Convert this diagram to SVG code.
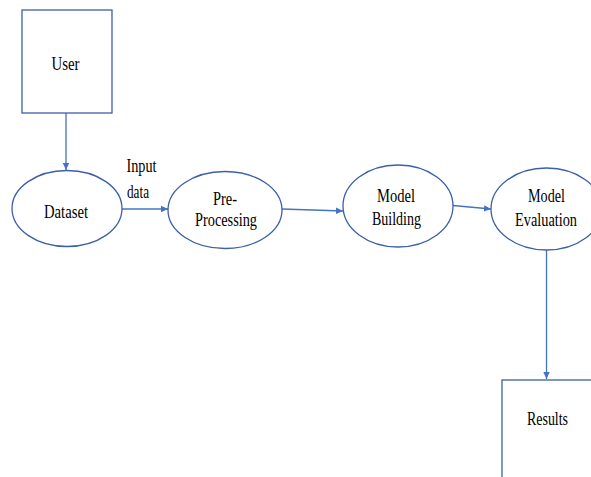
<svg xmlns="http://www.w3.org/2000/svg" width="591" height="477" viewBox="0 0 591 477">
<defs>
<marker id="ah" markerWidth="8" markerHeight="8" refX="7" refY="4" orient="auto" markerUnits="userSpaceOnUse">
<path d="M0,0.8 L7,4 L0,7.2 Z" fill="#4472C4"/>
</marker>
<style>
.shape{fill:#ffffff;stroke:#3B5FA8;stroke-width:1.3}
.conn{stroke:#4472C4;stroke-width:1.3;fill:none;marker-end:url(#ah)}
text{font-family:"Liberation Serif","Times New Roman",serif;font-size:19px;fill:#000000;text-anchor:middle}
</style>
</defs>
<rect width="591" height="477" fill="#ffffff"/>
<g id="connectors">
<line class="conn" x1="66" y1="113" x2="66" y2="170"/>
<line class="conn" x1="122" y1="209" x2="168" y2="209"/>
<line class="conn" x1="282" y1="209" x2="343" y2="211"/>
<line class="conn" x1="453" y1="205.5" x2="491" y2="209"/>
<line class="conn" x1="546.5" y1="250" x2="546.5" y2="379"/>
<text x="141.5" y="172" textLength="30" lengthAdjust="spacingAndGlyphs">Input</text>
<text x="138" y="198" textLength="22" lengthAdjust="spacingAndGlyphs">data</text>
</g>
<g id="user">
<rect class="shape" x="22" y="10" width="90" height="103"/>
<text x="65.5" y="69.5" textLength="28" lengthAdjust="spacingAndGlyphs">User</text>
</g>
<g id="dataset">
<ellipse class="shape" cx="67" cy="208.5" rx="55" ry="38"/>
<text x="66" y="218" textLength="44" lengthAdjust="spacingAndGlyphs">Dataset</text>
</g>
<g id="preprocessing">
<ellipse class="shape" cx="225" cy="210" rx="57" ry="38.5"/>
<text x="225" y="205" textLength="24" lengthAdjust="spacingAndGlyphs">Pre-</text>
<text x="226" y="226" textLength="62" lengthAdjust="spacingAndGlyphs">Processing</text>
</g>
<g id="modelbuilding">
<ellipse class="shape" cx="398" cy="206" rx="55" ry="41"/>
<text x="396" y="202" textLength="38" lengthAdjust="spacingAndGlyphs">Model</text>
<text x="396.5" y="225" textLength="49" lengthAdjust="spacingAndGlyphs">Building</text>
</g>
<g id="modelevaluation">
<ellipse class="shape" cx="546.5" cy="209" rx="55.5" ry="41"/>
<text x="546.5" y="202" textLength="37" lengthAdjust="spacingAndGlyphs">Model</text>
<text x="546" y="226" textLength="62" lengthAdjust="spacingAndGlyphs">Evaluation</text>
</g>
<g id="results">
<rect class="shape" x="502" y="380" width="110" height="110"/>
<text x="547.5" y="425" textLength="41" lengthAdjust="spacingAndGlyphs">Results</text>
</g>
</svg>
